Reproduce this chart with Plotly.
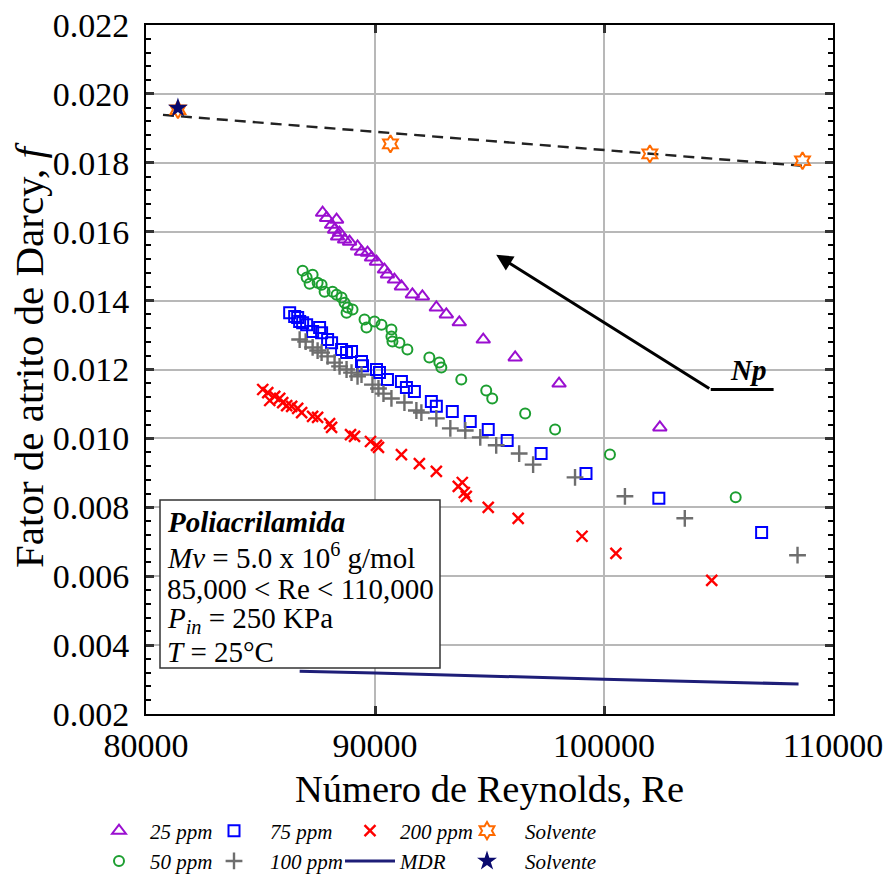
import plotly.graph_objects as go

# ---------------- data ----------------
re_25 = [87712, 87886, 88322, 88104, 88235, 88453, 88366, 88671, 88889, 89237, 89411, 89673, 89847,
         90065, 90413, 90544, 90849, 91154, 91633, 92069, 92679, 93115, 93681, 94727, 96121, 98038, 102439]
f_25 = [0.01655, 0.01640, 0.01635, 0.01620, 0.01606, 0.01597, 0.01586, 0.01577, 0.01571, 0.01557, 0.01542,
        0.01539, 0.01525, 0.01513, 0.01490, 0.01476, 0.01461, 0.01441, 0.01418, 0.01412, 0.01380, 0.01360,
        0.01337, 0.01287, 0.01235, 0.01159, 0.01032]

re_50 = [86840, 87276, 87015, 87145, 87494, 87668, 87799, 88148, 88322, 88540, 88670, 88801, 89019, 88758,
         89542, 89629, 89978, 90283, 90718, 90718, 90762, 91067, 91415, 92374, 92810, 92897, 93768, 94857,
         95119, 96557, 97864, 100260, 105750]
f_50 = [0.01487, 0.01475, 0.01467, 0.01449, 0.01452, 0.01446, 0.01426, 0.01426, 0.01417, 0.01409, 0.01394,
        0.01380, 0.01374, 0.01365, 0.01345, 0.01322, 0.01339, 0.01330, 0.01316, 0.01296, 0.01281, 0.01278,
        0.01258, 0.01235, 0.01220, 0.01206, 0.01171, 0.01139, 0.01116, 0.01072, 0.01026, 0.00953, 0.00829]

re_75 = [86274, 86492, 86623, 86710, 86840, 87015, 87276, 87581, 87668, 87930, 88104, 88540, 88758, 88975,
         89411, 89455, 90065, 90195, 90544, 91154, 91372, 91720, 92461, 92679, 93376, 94160, 94945, 95772,
         97254, 99214, 102395, 106883]
f_75 = [0.01365, 0.01354, 0.01351, 0.01339, 0.01336, 0.01330, 0.01310, 0.01322, 0.01307, 0.01287, 0.01278,
        0.01258, 0.01249, 0.01252, 0.01223, 0.01211, 0.01200, 0.01191, 0.01171, 0.01165, 0.01148, 0.01136,
        0.01107, 0.01093, 0.01078, 0.01049, 0.01026, 0.00994, 0.00956, 0.00898, 0.00826, 0.00727]

re_100 = [86710, 86971, 87276, 87494, 87668, 87930, 88235, 88453, 88758, 88975, 89237, 89411, 89890, 90152,
          90370, 90718, 91285, 91807, 92025, 92679, 93289, 93942, 94596, 95293, 96295, 96905, 98735, 100914,
          103528, 108451]
f_100 = [0.01287, 0.01281, 0.01264, 0.01255, 0.01249, 0.01238, 0.01220, 0.01209, 0.01200, 0.01191, 0.01180,
         0.01185, 0.01156, 0.01145, 0.01130, 0.01116, 0.01104, 0.01081, 0.01075, 0.01058, 0.01029, 0.01023,
         0.01003, 0.00980, 0.00956, 0.00924, 0.00887, 0.00832, 0.00768, 0.00661]

re_200 = [85098, 85316, 85403, 85621, 85838, 85969, 86143, 86361, 86623, 86797, 87276, 87494, 88017, 88104,
          88932, 89106, 89803, 90065, 90152, 91154, 91938, 92679, 93637, 93812, 93899, 93986, 94945, 96252,
          99040, 100521, 104704]
f_200 = [0.01142, 0.01133, 0.01110, 0.01122, 0.01116, 0.01104, 0.01095, 0.01093, 0.01087, 0.01075, 0.01064,
         0.01061, 0.01043, 0.01032, 0.01011, 0.01006, 0.00991, 0.00980, 0.00974, 0.00953, 0.00927, 0.00904,
         0.00861, 0.00872, 0.00843, 0.00832, 0.00800, 0.00768, 0.00716, 0.00666, 0.00588]

re_solv = [81394, 90675, 102003, 108669]
f_solv = [0.01954, 0.01855, 0.01826, 0.01806]

re_solv_star = [81394]
f_solv_star = [0.01959]

re_fit = [80741, 108713]
f_fit = [0.01939, 0.01791]

re_mdr = [86710, 90000, 100000, 108495]
f_mdr = [0.00324, 0.00319, 0.00301, 0.00287]

x_ticks = [80000, 90000, 100000, 110000]
y_ticks = [0.002, 0.004, 0.006, 0.008, 0.010, 0.012, 0.014, 0.016, 0.018, 0.020, 0.022]

# ---------------- styles ----------------
SERIF = "Liberation Serif"
C_25 = "#9A0FD0"
C_50 = "#1C9E30"
C_75 = "#0000FF"
C_100 = "#6E6E6E"
C_200 = "#FF0000"
C_SOLV = "#FF6A00"
C_STAR = "#0A0A6E"
C_MDR = "#1E1E78"

W_L, W_R, W_T, W_B = 146, 57, 25, 162
FW, FH = 890, 876
PW = FW - W_L - W_R
PH = FH - W_T - W_B


def px_x(p):
    return (p - W_L) / PW


def px_y(p):
    return (FH - W_B - p) / PH


fig = go.Figure()

# dashed fit line (no legend)
fig.add_trace(go.Scatter(x=re_fit, y=f_fit, mode="lines", showlegend=False,
                         line=dict(color="#222222", width=2.4, dash="11px,7px")))

fig.add_trace(go.Scatter(x=re_25, y=f_25, mode="markers", name="25 ppm", legend="legend",
                         marker=dict(symbol="triangle-up-open", size=12, color=C_25, line=dict(width=2, color=C_25))))
fig.add_trace(go.Scatter(x=re_50, y=f_50, mode="markers", name="50 ppm", legend="legend",
                         marker=dict(symbol="circle-open", size=10, color=C_50, line=dict(width=2, color=C_50))))
fig.add_trace(go.Scatter(x=re_75, y=f_75, mode="markers", name="75 ppm", legend="legend2",
                         marker=dict(symbol="square-open", size=11, color=C_75, line=dict(width=2, color=C_75))))
fig.add_trace(go.Scatter(x=re_100, y=f_100, mode="markers", name="100 ppm", legend="legend2",
                         marker=dict(symbol="cross-thin-open", size=12, color=C_100, line=dict(width=2.4, color=C_100))))
fig.add_trace(go.Scatter(x=re_200, y=f_200, mode="markers", name="200 ppm", legend="legend3",
                         marker=dict(symbol="x-thin-open", size=11, color=C_200, line=dict(width=2.4, color=C_200))))
fig.add_trace(go.Scatter(x=re_mdr, y=f_mdr, mode="lines", name="MDR", legend="legend3",
                         line=dict(color=C_MDR, width=3)))
fig.add_trace(go.Scatter(x=re_solv, y=f_solv, mode="markers", name="Solvente", legend="legend4",
                         marker=dict(symbol="hexagram-open", size=13, color=C_SOLV, line=dict(width=2, color=C_SOLV))))
fig.add_trace(go.Scatter(x=re_solv_star, y=f_solv_star, mode="markers", name="Solvente ", legend="legend4",
                         marker=dict(symbol="star", size=15, color=C_STAR, line=dict(width=0))))

# ---------------- annotations ----------------
shapes = [
    dict(type="rect", xref="paper", yref="paper", x0=px_x(160), x1=px_x(440), y0=px_y(668), y1=px_y(500),
         line=dict(color="#333333", width=1.5), fillcolor="white", layer="above"),
    dict(type="line", xref="x", yref="y", x0=104661, x1=107406, y0=0.01142, y1=0.01142,
         line=dict(color="black", width=3)),
]

box_lines = [
    ("<b><i>Poliacrilamida</i></b>", 522),
    ("<i>Mv</i> = 5.0 x 10<sup>6</sup> g/mol", 556),
    ("85,000 &lt; Re &lt; 110,000", 589),
    ("<i>P<sub>in</sub></i> = 250 KPa", 620),
    ("<i>T</i> = 25°C", 652),
]
annotations = []
for txt, py in box_lines:
    annotations.append(dict(text=txt, xref="paper", yref="paper", x=px_x(165), y=px_y(py),
                            xanchor="left", yanchor="middle", showarrow=False,
                            font=dict(family=SERIF, size=29, color="black")))

annotations.append(dict(x=95293, y=0.01533, ax=104661, ay=0.01142, xref="x", yref="y", axref="x", ayref="y",
                        text="", showarrow=True, arrowhead=2, arrowsize=1.1, arrowwidth=3, arrowcolor="black"))
annotations.append(dict(x=106300, y=0.01200, xref="x", yref="y", text="<b><i>Np</i></b>", showarrow=False,
                        font=dict(family=SERIF, size=29, color="black")))
# y-axis title
annotations.append(dict(text="Fator de atrito de Darcy, <i>f</i>", xref="paper", yref="paper",
                        x=px_x(29), y=px_y(355), xanchor="center", yanchor="middle", textangle=-90,
                        showarrow=False, font=dict(family=SERIF, size=41, color="black")))

legend_common = dict(orientation="v", xref="paper", yref="container", xanchor="left", yanchor="middle",
                     y=1 - 846 / FH, traceorder="normal",
                     font=dict(family=SERIF, size=21, style="italic", color="black"),
                     bgcolor="rgba(0,0,0,0)")

fig.update_layout(
    width=FW, height=FH,
    margin=dict(l=W_L, r=W_R, t=W_T, b=W_B),
    paper_bgcolor="white", plot_bgcolor="white",
    font=dict(family=SERIF, color="black"),
    shapes=shapes,
    annotations=annotations,
    legend=dict(x=px_x(88), itemwidth=52, **legend_common),
    legend2=dict(x=px_x(198), itemwidth=62, **legend_common),
    legend3=dict(x=px_x(340), itemwidth=50, **legend_common),
    legend4=dict(x=px_x(449), itemwidth=66, **legend_common),
    xaxis=dict(range=[80000, 110000], tickvals=x_ticks, tickformat="d", automargin=False,
               tickfont=dict(family=SERIF, size=34),
               title=dict(text="Número de Reynolds, Re", font=dict(family=SERIF, size=38.5), standoff=17),
               showgrid=True, gridcolor="#B8B8B8", gridwidth=2,
               showline=True, linecolor="black", linewidth=2, mirror="allticks",
               ticks="inside", ticklen=8, tickwidth=3, tickcolor="#333333", zeroline=False),
    yaxis=dict(range=[0.002, 0.022], tickvals=y_ticks, tickformat=".3f", automargin=False,
               tickfont=dict(family=SERIF, size=34), ticklabelstandoff=8,
               showgrid=True, gridcolor="#B8B8B8", gridwidth=2,
               showline=True, linecolor="black", linewidth=2, mirror="allticks",
               ticks="inside", ticklen=8, tickwidth=3, tickcolor="#333333", zeroline=False,
               minor=dict(dtick=0.0004, ticks="inside", ticklen=5, tickwidth=2, tickcolor="black", showgrid=False)),
)

fig.write_html("out.html", config={"displayModeBar": False},
               post_script="document.body.style.margin='0px';")
